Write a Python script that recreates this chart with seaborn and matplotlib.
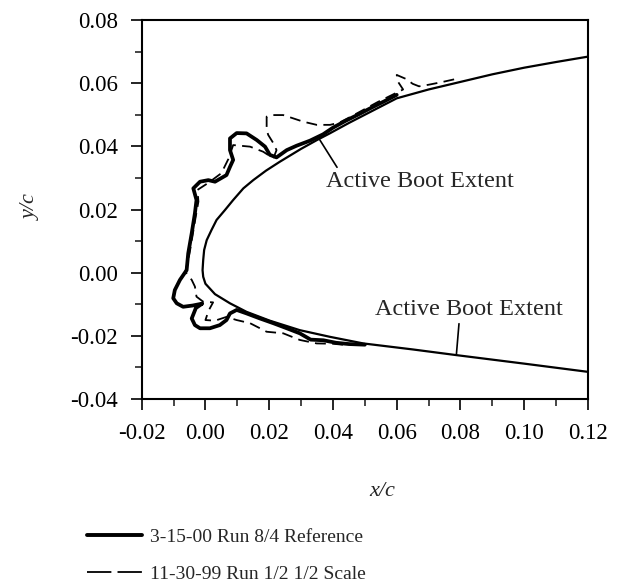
import matplotlib
matplotlib.use("Agg")
import matplotlib.pyplot as plt
from matplotlib.lines import Line2D
from matplotlib.ticker import MultipleLocator, FormatStrFormatter
import pandas as pd
import seaborn as sns

# ---------------- data ----------------
airfoil_x = [0.1200, 0.1100, 0.1000, 0.0900, 0.0800, 0.0700, 0.0600, 0.0550,
             0.0500, 0.0450, 0.0390, 0.0350, 0.0300, 0.0233, 0.0190,
             0.0150, 0.0119, 0.0087, 0.0061, 0.0035, 0.0019, 0.0004, -0.0004,
             -0.0007, -0.0009, -0.0007, 0.0000, 0.0030, 0.0077, 0.0129, 0.0202,
             0.0296, 0.0390, 0.0495, 0.0650, 0.0787, 0.1000, 0.1200]
airfoil_y = [0.0684, 0.0667, 0.0649, 0.0628, 0.0604, 0.0580, 0.0552, 0.0526,
             0.0500, 0.0474, 0.0441, 0.0420, 0.0392, 0.0351, 0.0323,
             0.0293, 0.0267, 0.0230, 0.0198, 0.0167, 0.0135, 0.0103, 0.0072,
             0.0040, 0.0008, -0.0013, -0.0035, -0.0068, -0.0097, -0.0124, -0.0152,
             -0.0182, -0.0203, -0.0224, -0.0243, -0.0261, -0.0288, -0.0314]

ref_x = [0.0600, 0.0560, 0.0520, 0.0480, 0.0440, 0.0400, 0.0369, 0.0328, 0.0286,
         0.0255, 0.0223, 0.0202, 0.0187, 0.0161, 0.0129, 0.0098, 0.0077, 0.0077,
         0.0087, 0.0077, 0.0066, 0.0030, 0.0009, -0.0017, -0.0038, -0.0028,
         -0.0033, -0.0043, -0.0054, -0.0059, -0.0080, -0.0096, -0.0101, -0.0090,
         -0.0070, -0.0040, -0.0010, -0.0030, -0.0043, -0.0033, -0.0017, 0.0014,
         0.0045, 0.0066, 0.0077, 0.0098, 0.0129, 0.0171, 0.0213, 0.0255, 0.0296,
         0.0330, 0.0370, 0.0410, 0.0450, 0.0500]
ref_y = [0.0563, 0.0542, 0.0522, 0.0501, 0.0481, 0.0459, 0.0438, 0.0418, 0.0402,
         0.0388, 0.0365, 0.0373, 0.0399, 0.0420, 0.0441, 0.0442, 0.0425, 0.0388,
         0.0357, 0.0335, 0.0309, 0.0288, 0.0293, 0.0288, 0.0267, 0.0230,
         0.0188, 0.0125, 0.0061, 0.0008, -0.0023, -0.0055, -0.0081, -0.0097,
         -0.0108, -0.0104, -0.0098, -0.0112, -0.0145, -0.0166, -0.0176, -0.0176,
         -0.0166, -0.0150, -0.0129, -0.0118, -0.0129, -0.0145, -0.0160, -0.0176, -0.0192,
         -0.0212, -0.0214, -0.0222, -0.0226, -0.0228]

half_x = [0.0780, 0.0740, 0.0700, 0.0670, 0.0650, 0.0630, 0.0600, 0.0605, 0.0620,
          0.0580, 0.0540, 0.0500, 0.0460, 0.0420, 0.0391, 0.0349, 0.0307, 0.0244,
          0.0213, 0.0192, 0.0192, 0.0197, 0.0213, 0.0223, 0.0213, 0.0181, 0.0140,
          0.0087, 0.0072, 0.0050, 0.0010, -0.0025, -0.0022, -0.0030, -0.0040,
          -0.0050, -0.0063, -0.0043, -0.0033, -0.0028, -0.0007, 0.0024, 0.0010,
          0.0000, 0.0030, 0.0066, 0.0098, 0.0140, 0.0171, 0.0192, 0.0244, 0.0296,
          0.0349, 0.0400, 0.0450]
half_y = [0.0612, 0.0603, 0.0595, 0.0590, 0.0598, 0.0613, 0.0626, 0.0603, 0.0580,
          0.0560, 0.0540, 0.0518, 0.0496, 0.0475, 0.0468, 0.0468, 0.0478, 0.0499,
          0.0499, 0.0494, 0.0452, 0.0436, 0.0410, 0.0388, 0.0362, 0.0383, 0.0399,
          0.0404, 0.0360, 0.0315, 0.0285, 0.0262, 0.0225, 0.0180, 0.0120,
          0.0060, 0.0003, -0.0023, -0.0044, -0.0076, -0.0092, -0.0094, -0.0120,
          -0.0150, -0.0152, -0.0140, -0.0150, -0.0160, -0.0176, -0.0187, -0.0192, -0.0213,
          -0.0224, -0.0225, -0.0230]

series_labels = ["3-15-00 Run 8/4 Reference", "11-30-99 Run 1/2 1/2 Scale"]
annot_text = "Active Boot Extent"
x_ticks = [-0.02, 0.00, 0.02, 0.04, 0.06, 0.08, 0.10, 0.12]
y_ticks = [-0.04, -0.02, 0.00, 0.02, 0.04, 0.06, 0.08]

# ---------------- styling ----------------
sns.set_theme(style="ticks")
plt.rcParams["font.family"] = ["Liberation Serif", "DejaVu Serif"]
plt.rcParams["axes.unicode_minus"] = False
plt.rcParams["mathtext.default"] = "regular"

fig = plt.figure(figsize=(6.2, 5.88), dpi=100)
ax = fig.add_axes([0.2285, 0.3214, 0.7199, 0.6446])

df_air = pd.DataFrame({"x": airfoil_x, "y": airfoil_y})
df_ref = pd.DataFrame({"x": ref_x, "y": ref_y})
df_half = pd.DataFrame({"x": half_x, "y": half_y})

sns.lineplot(data=df_air, x="x", y="y", sort=False, estimator=None, ax=ax,
             color="black", linewidth=1.6)
sns.lineplot(data=df_ref, x="x", y="y", sort=False, estimator=None, ax=ax,
             color="black", linewidth=2.7, solid_joinstyle="round",
             solid_capstyle="round")
sns.lineplot(data=df_half, x="x", y="y", sort=False, estimator=None, ax=ax,
             color="black", linewidth=1.3, linestyle=(0, (6, 3.5)))
if ax.get_legend() is not None:
    ax.get_legend().remove()

ax.set_xlim(-0.02, 0.12)
ax.set_ylim(-0.04, 0.08)
ax.set_xticks(x_ticks)
ax.set_yticks(y_ticks)
ax.xaxis.set_major_formatter(FormatStrFormatter("%.2f"))
ax.yaxis.set_major_formatter(FormatStrFormatter("%.2f"))
ax.xaxis.set_minor_locator(MultipleLocator(0.01))
ax.yaxis.set_minor_locator(MultipleLocator(0.01))
ax.tick_params(which="major", direction="out", length=8, width=1.2,
               labelsize=16.5, pad=9, colors="black")
ax.tick_params(which="minor", direction="out", length=5, width=1.2)
for s in ax.spines.values():
    s.set_visible(True)
    s.set_linewidth(1.5)
    s.set_color("black")

ax.set_xlabel("x/c", fontsize=16, style="italic")
ax.set_ylabel("y/c", fontsize=16, style="italic")
ax.xaxis.set_label_coords(0.538, -0.218)
ax.yaxis.set_label_coords(-0.225, 0.507)

# annotations
ax.annotate(annot_text, xy=(0.0359, 0.0420), xytext=(0.0378, 0.0290),
            fontsize=17.5, ha="left", va="center",
            arrowprops=dict(arrowstyle="-", color="black", lw=1.2,
                            shrinkA=0, shrinkB=0, relpos=(0.07, 1.0)))
ax.annotate(annot_text, xy=(0.0787, -0.0261), xytext=(0.0531, -0.0118),
            fontsize=17.5, ha="left", va="center",
            arrowprops=dict(arrowstyle="-", color="black", lw=1.2,
                            shrinkA=0, shrinkB=0, relpos=(0.45, 0.0)))

# legend below the axes
handles = [Line2D([], [], color="black", linewidth=2.8),
           Line2D([], [], color="black", linewidth=1.3, linestyle=(0, (13.5, 3.4)))]
fig.legend(handles, series_labels, loc="upper left",
           bbox_to_anchor=(87 / 620, 1 - 528 / 588), frameon=False,
           fontsize=14, handlelength=2.83, handletextpad=0.4,
           labelspacing=1.0, borderpad=0, borderaxespad=0)

fig.savefig("out.png", dpi=100, facecolor="white")
